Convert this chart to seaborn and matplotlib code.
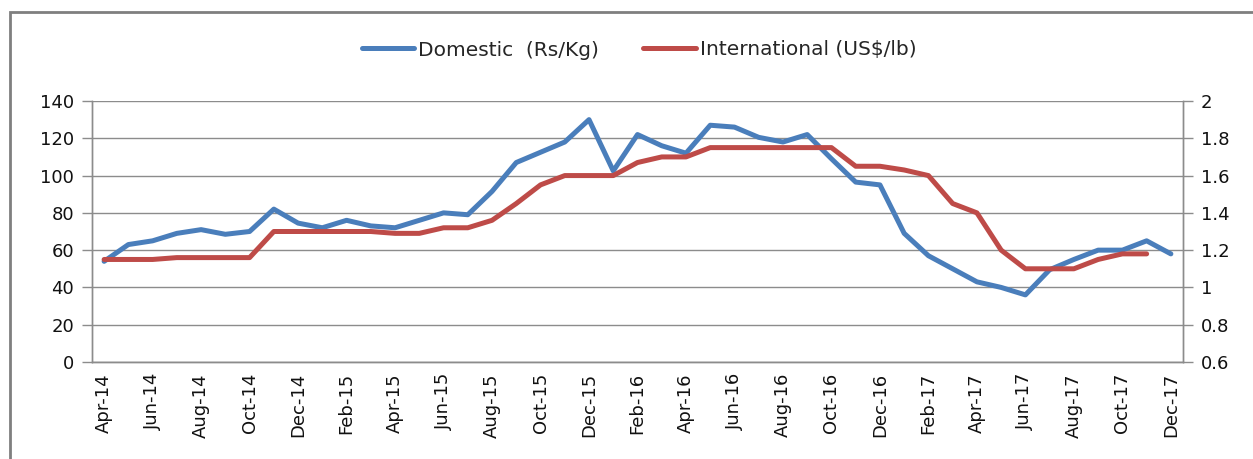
import pandas as pd
import numpy as np
import matplotlib
matplotlib.use('Agg')
import matplotlib.pyplot as plt
import seaborn as sns
from matplotlib.patches import Rectangle

# tháng: Apr-14 .. Dec-17
months = ['Apr-14', 'May-14', 'Jun-14', 'Jul-14', 'Aug-14', 'Sep-14', 'Oct-14', 'Nov-14', 'Dec-14',
          'Jan-15', 'Feb-15', 'Mar-15', 'Apr-15', 'May-15', 'Jun-15', 'Jul-15', 'Aug-15', 'Sep-15',
          'Oct-15', 'Nov-15', 'Dec-15', 'Jan-16', 'Feb-16', 'Mar-16', 'Apr-16', 'May-16', 'Jun-16',
          'Jul-16', 'Aug-16', 'Sep-16', 'Oct-16', 'Nov-16', 'Dec-16', 'Jan-17', 'Feb-17', 'Mar-17',
          'Apr-17', 'May-17', 'Jun-17', 'Jul-17', 'Aug-17', 'Sep-17', 'Oct-17', 'Nov-17', 'Dec-17']

domestic = [54, 63, 65, 69, 71, 68.5, 70, 82, 74.5,
            72, 76, 73, 72, 76, 80, 79, 91.5, 107,
            112.5, 118, 130, 102.5, 122, 116, 112, 127, 126,
            120.5, 118, 122, 109, 96.5, 95, 69, 57, 50,
            43, 40, 36, 49.5, 55, 60, 60, 65, 58]

international = [1.15, 1.15, 1.15, 1.16, 1.16, 1.16, 1.16, 1.30, 1.30,
                 1.30, 1.30, 1.30, 1.29, 1.29, 1.32, 1.32, 1.36, 1.45,
                 1.55, 1.60, 1.60, 1.60, 1.67, 1.70, 1.70, 1.75, 1.75,
                 1.75, 1.75, 1.75, 1.75, 1.65, 1.65, 1.63, 1.60, 1.45,
                 1.40, 1.20, 1.10, 1.10, 1.10, 1.15, 1.18, 1.18, np.nan]

df = pd.DataFrame({'idx': np.arange(len(months)), 'month': months,
                   'domestic': domestic, 'international': international})

sns.set_style('white')
plt.rcParams['font.family'] = ['DejaVu Sans']

blue = '#4A7EBB'
red = '#BE4B48'
grid_c = '#8C8C8C'

fig = plt.figure(figsize=(12.53, 4.59), dpi=100)
ax = fig.add_axes([92/1253, 1-362/459, (1183-92)/1253, (362-101)/459])
ax2 = ax.twinx()

sns.lineplot(data=df, x='idx', y='domestic', ax=ax, color=blue, lw=3.6,
             label='Domestic  (Rs/Kg)', legend=False)
sns.lineplot(data=df.dropna(), x='idx', y='international', ax=ax2, color=red, lw=3.6,
             label='International (US$/lb)', legend=False)

ax.set_xlim(-0.5, len(months) - 0.5)
ax.set_ylim(0, 140)
ax2.set_ylim(0.6, 2.0)
ax.set_yticks(np.arange(0, 141, 20))
ax2.set_yticks(np.arange(0.6, 2.01, 0.2))
ax2.set_yticklabels(['0.6', '0.8', '1', '1.2', '1.4', '1.6', '1.8', '2'])

ax.set_xticks(df['idx'][::2])
ax.set_xticklabels(df['month'][::2], rotation=90)
ax.set_xticks(np.arange(-0.5, len(months), 2), minor=True)
ax.tick_params(axis='x', which='major', length=0, pad=8, labelsize=13, colors='#111111')
ax.tick_params(axis='x', which='minor', length=8, width=1, color=grid_c)
ax.tick_params(axis='y', length=7, width=1, color=grid_c, labelsize=13, labelcolor='#111111', pad=6)
ax2.tick_params(axis='y', length=7, width=1, color=grid_c, labelsize=13, labelcolor='#111111', pad=6)

ax.grid(axis='y', color=grid_c, lw=1)
ax.set_axisbelow(True)
ax.set_xlabel('')
ax.set_ylabel('')
ax2.set_ylabel('')
for a in (ax, ax2):
    a.spines['top'].set_visible(False)
    for s in ('left', 'right', 'bottom'):
        a.spines[s].set_color(grid_c)
        a.spines[s].set_linewidth(1)

h1, l1 = ax.get_legend_handles_labels()
h2, l2 = ax2.get_legend_handles_labels()
fig.legend(h1 + h2, l1 + l2, loc='center', bbox_to_anchor=(0.51, 1 - 50/459), ncol=2,
           frameon=False, fontsize=14.5, handlelength=2.6, handletextpad=0.2, columnspacing=2.2)

# khung viền ngoài
fig.patches.append(Rectangle((10/1253, -0.05), 1.1, 1.05 - 12/459, transform=fig.transFigure,
                             fill=False, edgecolor='#7F7F7F', lw=2))

fig.savefig('out.png', dpi=100)
